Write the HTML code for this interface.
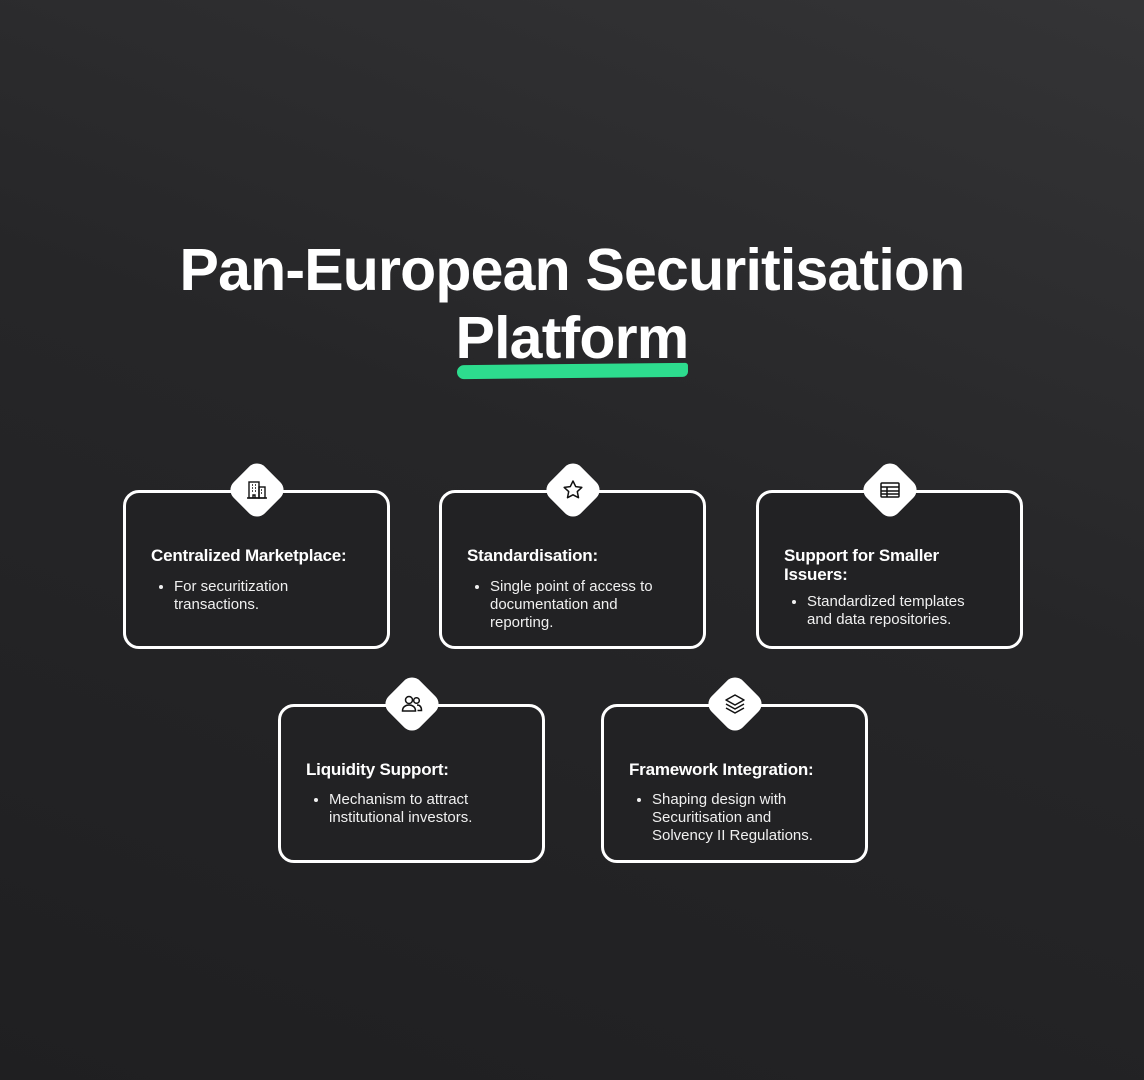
<!DOCTYPE html>
<html><head><meta charset="utf-8"><style>
body{margin:0;width:1144px;height:1080px;overflow:hidden;background:linear-gradient(200deg,#343436 0%,#262628 45%,#1f1f21 100%);font-family:"Liberation Sans",sans-serif;color:#fff;position:relative}
h1{position:absolute;left:0;width:1144px;top:236px;margin:0;text-align:center;font-size:59px;line-height:68px;font-weight:bold;letter-spacing:-0.8px}
.ul{position:absolute;left:457px;top:364px;width:231px;height:14px;background:#2ddc8e;border-radius:8px 3px 6px 8px;transform:rotate(-0.6deg)}
.card{position:absolute;width:261px;height:153px;border:3px solid #fff;border-radius:16px;background:#222224;box-sizing:content-box}
.card h3{margin:0;position:absolute;left:25px;font-size:17px;line-height:19px;font-weight:bold;letter-spacing:-0.2px}
.card ul{margin:0;padding:0 0 0 48px;position:absolute;left:0;width:180px;font-size:15px;line-height:18px;color:#f0f0f0}
.dia{position:absolute;width:44px;height:44px;background:#fff;border-radius:11px;transform:rotate(45deg)}
.ic{position:absolute;width:24px;height:24px}
</style></head><body>
<h1>Pan-European Securitisation<br>Platform</h1>
<div class="ul"></div>

<div class="card" style="left:123px;top:490px"><h3 style="top:53px">Centralized Marketplace:</h3><ul style="top:85px"><li>For securitization transactions.</li></ul></div>
<div class="card" style="left:439px;top:490px"><h3 style="top:53px">Standardisation:</h3><ul style="top:85px"><li>Single point of access to documentation and reporting.</li></ul></div>
<div class="card" style="left:756px;top:490px"><h3 style="top:53px">Support for Smaller<br>Issuers:</h3><ul style="top:100px"><li>Standardized templates and data repositories.</li></ul></div>
<div class="card" style="left:278px;top:704px"><h3 style="top:53px">Liquidity Support:</h3><ul style="top:84px"><li>Mechanism to attract institutional investors.</li></ul></div>
<div class="card" style="left:601px;top:704px"><h3 style="top:53px">Framework Integration:</h3><ul style="top:84px"><li>Shaping design with Securitisation and Solvency II Regulations.</li></ul></div>

<div class="dia" style="left:235px;top:468px"></div>
<div class="dia" style="left:551px;top:468px"></div>
<div class="dia" style="left:868px;top:468px"></div>
<div class="dia" style="left:390px;top:682px"></div>
<div class="dia" style="left:713px;top:682px"></div>

<svg class="ic" style="left:245px;top:478px" viewBox="0 0 24 24" fill="none" stroke="#111" stroke-width="1.4"><rect x="4" y="4" width="10" height="16"/><rect x="14" y="9" width="6" height="11"/><path d="M7 7h1M10 7h1M7 10h1M10 10h1M7 13h1M10 13h1M8 20v-3h2v3M16 12h1M16 15h1M2 20h20"/></svg>
<svg class="ic" style="left:561px;top:478px" viewBox="0 0 24 24" fill="none" stroke="#111" stroke-width="1.5" stroke-linejoin="round"><path d="M12 3l2.7 5.6 6.1.8-4.5 4.2 1.2 6.1L12 16.8 6.5 19.7l1.2-6.1L3.2 9.4l6.1-.8z"/></svg>
<svg class="ic" style="left:878px;top:478px" viewBox="0 0 24 24" fill="none" stroke="#111" stroke-width="1.5"><rect x="3" y="5" width="18" height="14" rx="1"/><path d="M3 9h18M3 13h18M3 16h18M9 9v10"/></svg>
<svg class="ic" style="left:400px;top:692px" viewBox="0 0 24 24" fill="none" stroke="#111" stroke-width="1.5"><circle cx="9" cy="8" r="3.5"/><path d="M2.5 19c0-4 3-6 6.5-6s6.5 2 6.5 6z"/><circle cx="16.5" cy="8.5" r="2.8"/><path d="M17 13c3 0 4.5 2 4.5 5.5h-4"/></svg>
<svg class="ic" style="left:723px;top:692px" viewBox="0 0 24 24" fill="none" stroke="#111" stroke-width="1.5" stroke-linejoin="round"><path d="M12 3l9 5-9 5-9-5z"/><path d="M3 12l9 5 9-5"/><path d="M3 16l9 5 9-5"/></svg>
</body></html>
